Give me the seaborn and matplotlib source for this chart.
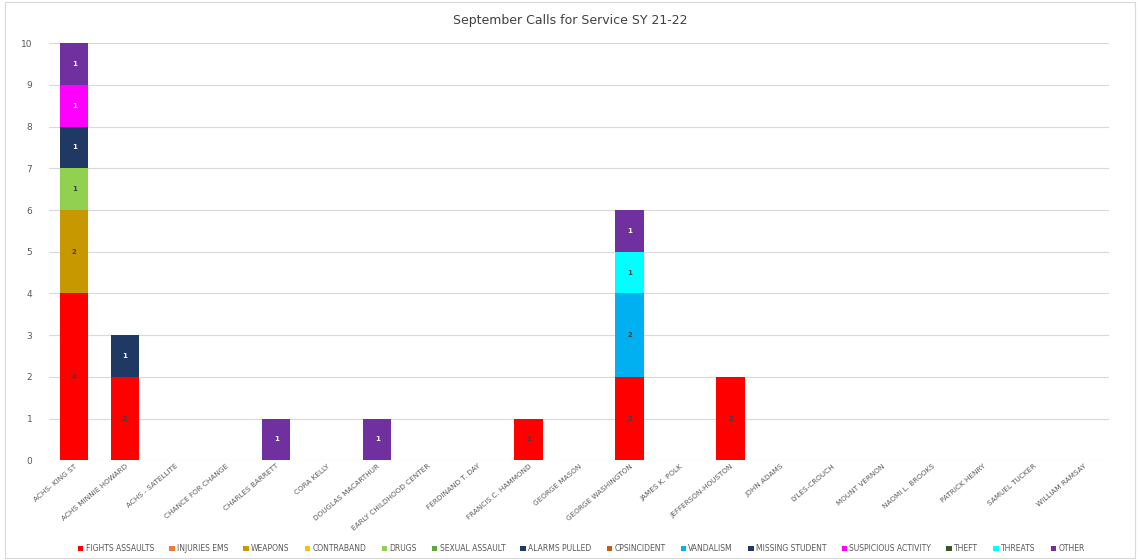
import numpy as np
import pandas as pd
import matplotlib
matplotlib.use("Agg")
import matplotlib.pyplot as plt
import seaborn as sns

schools = ["ACHS- KING ST", "ACHS MINNIE HOWARD", "ACHS - SATELLITE", "CHANCE FOR CHANGE",
           "CHARLES BARRETT", "CORA KELLY", "DOUGLAS MACARTHUR", "EARLY CHILDHOOD CENTER",
           "FERDINAND T. DAY", "FRANCIS C. HAMMOND", "GEORGE MASON", "GEORGE WASHINGTON",
           "JAMES K. POLK", "JEFFERSON-HOUSTON", "JOHN ADAMS", "LYLES-CROUCH",
           "MOUNT VERNON", "NAOMI L. BROOKS", "PATRICK HENRY", "SAMUEL TUCKER", "WILLIAM RAMSAY"]

series_names = ["FIGHTS ASSAULTS", "INJURIES EMS", "WEAPONS", "CONTRABAND", "DRUGS",
                "SEXUAL ASSAULT", "ALARMS PULLED", "CPSINCIDENT", "VANDALISM",
                "MISSING STUDENT", "SUSPICIOUS ACTIVITY", "THEFT", "THREATS", "OTHER"]

fights      = [4, 2, 0, 0, 0, 0, 0, 0, 0, 1, 0, 2, 0, 2, 0, 0, 0, 0, 0, 0, 0]
injuries    = [0] * 21
weapons     = [2, 0, 0, 0, 0, 0, 0, 0, 0, 0, 0, 0, 0, 0, 0, 0, 0, 0, 0, 0, 0]
contraband  = [0] * 21
drugs       = [1, 0, 0, 0, 0, 0, 0, 0, 0, 0, 0, 0, 0, 0, 0, 0, 0, 0, 0, 0, 0]
sexual      = [0] * 21
alarms      = [1, 1, 0, 0, 0, 0, 0, 0, 0, 0, 0, 0, 0, 0, 0, 0, 0, 0, 0, 0, 0]
cps         = [0] * 21
vandalism   = [0, 0, 0, 0, 0, 0, 0, 0, 0, 0, 0, 2, 0, 0, 0, 0, 0, 0, 0, 0, 0]
missing     = [0] * 21
suspicious  = [1, 0, 0, 0, 0, 0, 0, 0, 0, 0, 0, 0, 0, 0, 0, 0, 0, 0, 0, 0, 0]
theft       = [0] * 21
threats     = [0, 0, 0, 0, 0, 0, 0, 0, 0, 0, 0, 1, 0, 0, 0, 0, 0, 0, 0, 0, 0]
other       = [1, 0, 0, 0, 1, 0, 1, 0, 0, 0, 0, 1, 0, 0, 0, 0, 0, 0, 0, 0, 0]

series_values = [fights, injuries, weapons, contraband, drugs, sexual, alarms, cps,
                 vandalism, missing, suspicious, theft, threats, other]

colors = ["#FF0000", "#ED7D31", "#C89800", "#FFC000", "#92D050", "#5FA83A", "#1F3864",
          "#C55A11", "#00B0F0", "#203864", "#FF00FF", "#375623", "#00FFFF", "#7030A0"]
label_colors = ["#404040", "#404040", "#404040", "#404040", "#404040", "#404040", "white",
                "white", "#404040", "white", "white", "white", "#404040", "white"]

sns.set_theme(style="white")
plt.rcParams['font.family'] = ['DejaVu Sans']

fig = plt.figure(figsize=(11.4, 5.6), dpi=100)
ax = fig.add_axes([0.043, 0.178, 0.93, 0.745])

df = pd.DataFrame({"school": schools})
vals = np.array(series_values, dtype=float)
cum = np.cumsum(vals, axis=0)
for k in range(len(series_names) - 1, -1, -1):
    df["cum"] = cum[k]
    sns.barplot(data=df, x="school", y="cum", order=schools, color=colors[k],
                saturation=1, width=0.56, linewidth=0, ax=ax)

# segment value labels
for k in range(len(series_names)):
    for i in range(len(schools)):
        v = vals[k, i]
        if v > 0:
            ax.text(i, cum[k, i] - v / 2, f"{int(v)}", ha="center", va="center",
                    fontsize=5, fontweight="bold", color=label_colors[k])

ax.set_ylim(0, 10)
ax.set_xlim(-0.5, len(schools) - 0.5)
ax.set_yticks(range(0, 11))
ax.yaxis.grid(True, color="#D9D9D9", linewidth=0.8)
ax.set_axisbelow(True)
for s in ax.spines.values():
    s.set_visible(False)
ax.set_xlabel("")
ax.set_ylabel("")
ax.tick_params(axis="y", labelsize=6.5, labelcolor="#595959", length=0, pad=12)
ax.tick_params(axis="x", length=0, pad=2)
ax.set_xticks(range(len(schools)))
ax.set_xticklabels(schools, rotation=40, ha="right", rotation_mode="anchor",
                   fontsize=5.2, color="#595959")

fig.suptitle("September Calls for Service SY 21-22", y=0.975, fontsize=9, color="#404040")

from matplotlib.patches import Patch
handles = [Patch(facecolor=c, edgecolor="none") for c in colors]
fig.legend(handles, series_names, loc="lower center", bbox_to_anchor=(0.51, 0.0),
           ncol=14, fontsize=5.5, frameon=False, handlelength=0.7, handleheight=0.7,
           handletextpad=0.3, columnspacing=2.0, labelcolor="#595959")

fig.patches.append(plt.Rectangle((0.004, 0.004), 0.992, 0.992, transform=fig.transFigure,
                                 fill=False, edgecolor="#D9D9D9", linewidth=0.8))

fig.savefig("out.png", dpi=100, facecolor="white")
